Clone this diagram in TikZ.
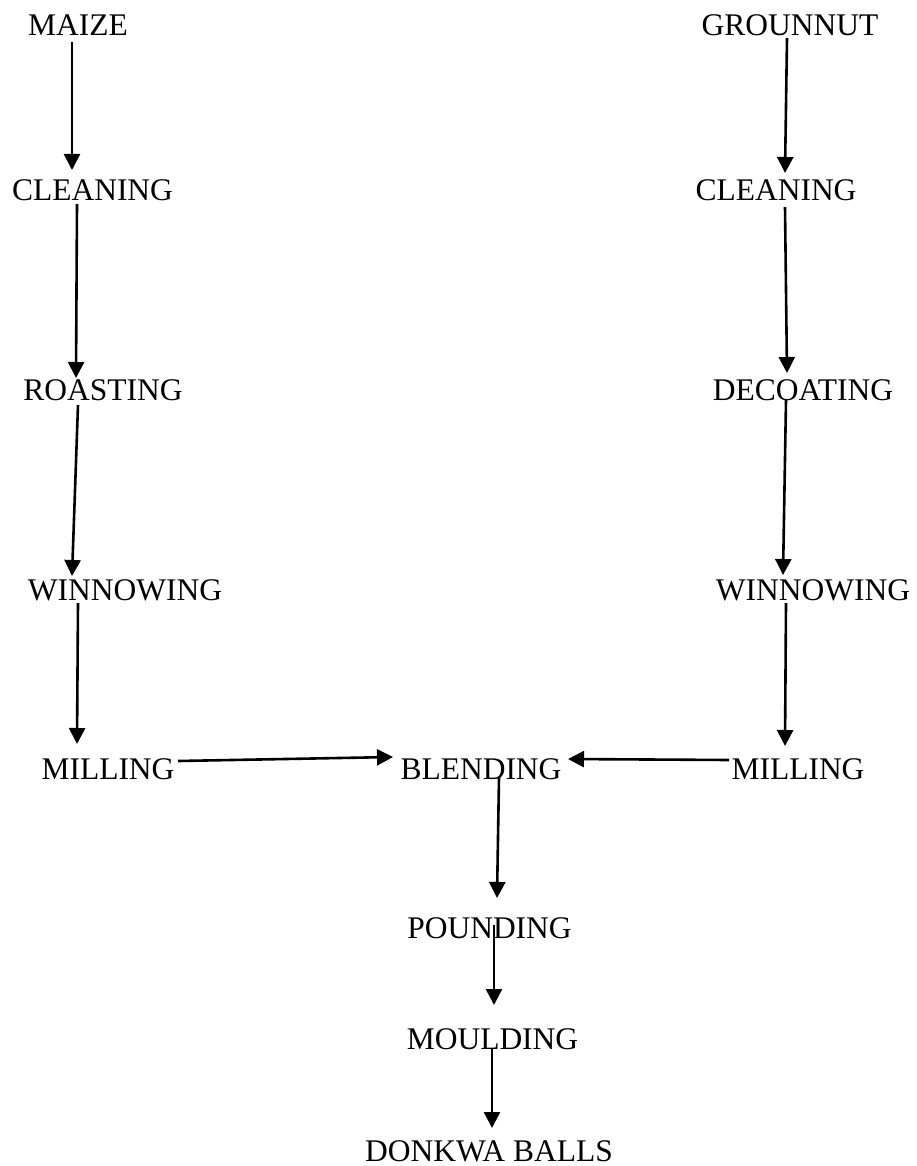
\documentclass[tikz,border=0pt]{standalone}
\usepackage{fontspec}
\setmainfont{Liberation Serif}
\usetikzlibrary{arrows.meta}
\begin{document}
\begin{tikzpicture}[x=1pt,y=-1pt,
  lbl/.style={inner sep=0pt,anchor=center,text height=20.85pt,text depth=0pt,
    font=\fontsize{31.5}{36}\selectfont},
  arr/.style={line width=2.6pt,-{Triangle[width=16pt,length=16pt]}}]
\useasboundingbox (0,0) rectangle (916,1166);
% left column
\node[lbl] (maize)  at (78,25.5)  {MAIZE};
\node[lbl] (clean1) at (92.5,190) {CLEANING};
\node[lbl] (roast)  at (103,390.5) {ROASTING};
\node[lbl] (winn1)  at (125,590.5) {WINNOWING};
\node[lbl] (mill1)  at (108,769) {MILLING};
% right column
\node[lbl] (gnut)   at (790,25.5) {GROUNNUT};
\node[lbl] (clean2) at (776,190)  {CLEANING};
\node[lbl] (decoat) at (803,390.5) {DECOATING};
\node[lbl] (winn2)  at (813,590.5) {WINNOWING};
\node[lbl] (mill2)  at (798,769) {MILLING};
% centre
\node[lbl] (blend)  at (481,769)  {BLENDING};
\node[lbl] (pound)  at (489.5,928) {POUNDING};
\node[lbl] (mould)  at (492.5,1039) {MOULDING};
\node[lbl] (donkwa) at (489,1151) {DONKWA BALLS};
% arrows left
\draw[arr] ([shift={(-6,16.5)}]maize.center) -- ([shift={(-20.5,-20)}]clean1.center);
\draw[arr] ([shift={(-15.5,14)}]clean1.center) -- ([shift={(-27,-12.5)}]roast.center);
\draw[arr] ([shift={(-25,14.5)}]roast.center) -- ([shift={(-53,-14.5)}]winn1.center);
\draw[arr] ([shift={(-47,12.5)}]winn1.center) -- ([shift={(-31,-25)}]mill1.center);
% arrows right
\draw[arr] ([shift={(-3,12.5)}]gnut.center) -- ([shift={(9,-17)}]clean2.center);
\draw[arr] ([shift={(9,17)}]clean2.center) -- ([shift={(-16,-17.5)}]decoat.center);
\draw[arr] ([shift={(-17,9.5)}]decoat.center) -- ([shift={(-30,-15.5)}]winn2.center);
\draw[arr] ([shift={(-27,12.5)}]winn2.center) -- ([shift={(-13,-23)}]mill2.center);
% into blending
\draw[arr] ([shift={(70,-8)}]mill1.center) -- ([shift={(-88,-12)}]blend.center);
\draw[arr] ([shift={(-69,-9)}]mill2.center) -- ([shift={(87,-10)}]blend.center);
% centre chain
\draw[arr] ([shift={(18,8)}]blend.center) -- ([shift={(7.5,-30)}]pound.center);
\draw[arr] ([shift={(4.5,-3)}]pound.center) -- ([shift={(1.5,-34)}]mould.center);
\draw[arr] ([shift={(-0.5,9)}]mould.center) -- ([shift={(3,-23)}]donkwa.center);
\end{tikzpicture}
\end{document}
